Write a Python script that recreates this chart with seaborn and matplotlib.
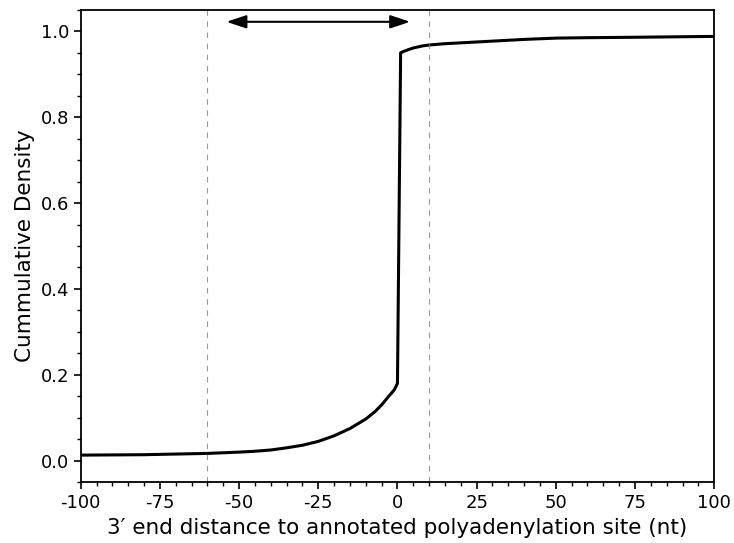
import matplotlib
matplotlib.use("Agg")
import matplotlib.pyplot as plt
import seaborn as sns
import pandas as pd
from matplotlib.ticker import MultipleLocator

sns.set_style("ticks")
plt.rcParams['font.family'] = ['DejaVu Sans']
plt.rcParams['text.color'] = 'black'
plt.rcParams['axes.labelcolor'] = 'black'
plt.rcParams['xtick.color'] = 'black'
plt.rcParams['ytick.color'] = 'black'
plt.rcParams['axes.edgecolor'] = 'black'

distance = [-100, -80, -60, -50, -45, -40, -35, -30, -25, -20, -15, -10, -7, -5, -3, -1, 0, 1, 3, 5, 8, 10, 15, 20, 25, 30, 40, 50, 60, 75, 100]
cum_density = [0.013, 0.014, 0.017, 0.020, 0.022, 0.025, 0.030, 0.036, 0.045, 0.058, 0.075, 0.097, 0.115, 0.130, 0.148, 0.165, 0.180, 0.950, 0.956, 0.961, 0.966, 0.968, 0.971, 0.973, 0.975, 0.977, 0.981, 0.984, 0.985, 0.986, 0.988]
window_lines = [-60, 10]
arrow_span = [-54, 4]

df = pd.DataFrame({"distance": distance, "cum": cum_density})

fig, ax = plt.subplots(figsize=(7.34, 5.43), dpi=100)
sns.lineplot(data=df, x="distance", y="cum", color="black", linewidth=2.2, ax=ax, estimator=None)

for xv in window_lines:
    ax.axvline(xv, color="grey", linestyle=(0, (5, 5)), linewidth=0.8, alpha=0.8)

ax.annotate("", xy=(arrow_span[0], 1.022), xytext=(arrow_span[1], 1.022),
            arrowprops=dict(arrowstyle="<|-|>,head_length=1.2,head_width=0.4", color="black", lw=1.5,
                            mutation_scale=10, shrinkA=0, shrinkB=0))

ax.set_xlim(-100, 100)
ax.set_ylim(-0.05, 1.05)
ax.set_xticks([-100, -75, -50, -25, 0, 25, 50, 75, 100])
ax.set_xticklabels(["-100", "-75", "-50", "-25", "0", "25", "50", "75", "100"])
ax.set_yticks([0.0, 0.2, 0.4, 0.6, 0.8, 1.0])
ax.xaxis.set_minor_locator(MultipleLocator(5))
ax.yaxis.set_minor_locator(MultipleLocator(0.05))
ax.tick_params(axis="both", which="major", labelsize=13, length=5, width=1.2, direction="out")
ax.tick_params(axis="both", which="minor", length=3, width=1.0, direction="out")
for s in ax.spines.values():
    s.set_linewidth(1.3)
    s.set_visible(True)

ax.set_xlabel("3\u2032 end distance to annotated polyadenylation site (nt)", fontsize=15.5)
ax.set_ylabel("Cummulative Density", fontsize=15.5)

fig.subplots_adjust(left=0.11, right=0.973, top=0.982, bottom=0.112)
fig.savefig("out.png", dpi=100)
